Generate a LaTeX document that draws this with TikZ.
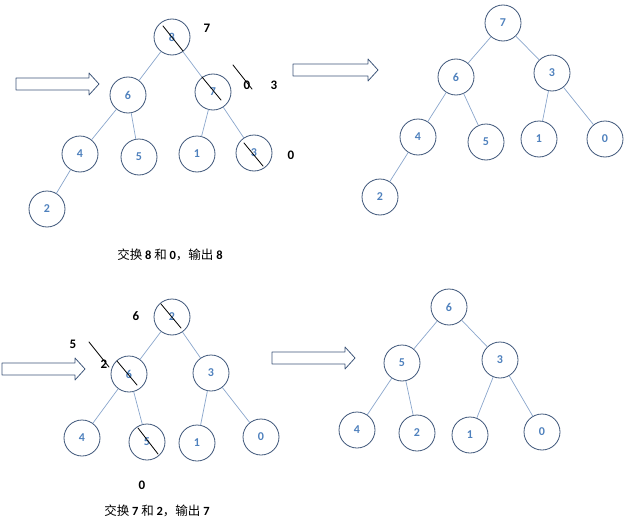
\documentclass[tikz,border=0pt]{standalone}
\usepackage{fontspec}
\setmainfont{Carlito}
\newfontfamily\cjk{Noto Sans CJK SC}
\definecolor{ringcol}{HTML}{3E5679}
\definecolor{numcol}{HTML}{4F81BD}
\definecolor{edgecol}{HTML}{8AA6CC}
\begin{document}
\begin{tikzpicture}[x=1pt,y=-1pt,line cap=round,line join=round,
  heapnode/.style={circle,draw=ringcol,line width=0.8pt,minimum size=36pt,inner sep=0pt,
    text=numcol,font=\fontsize{12}{12}\selectfont\bfseries},
  heapedge/.style={draw=edgecol,line width=0.7pt},
  strike/.style={black,line width=0.8pt},
  note/.style={font=\fontsize{13}{13}\selectfont\bfseries,text=black},
  caption/.style={font=\fontsize{12.5}{12.5}\selectfont,text=black}]
  \useasboundingbox (0,0) rectangle (630,522);
  \foreach \x/\y/\l in {16/84/83, 293/70/85, 2/369/83, 272/358/83}
    {\draw[ringcol,line width=0.8pt] (\x,\y-6)--(\x+\l-10,\y-6)--(\x+\l-10,\y-11)--(\x+\l,\y)
      --(\x+\l-10,\y+11)--(\x+\l-10,\y+6)--(\x,\y+6)--cycle;}
  \node[heapnode] (a0) at (172,37) {8};
  \node[heapnode] (a1) at (128,95) {6};
  \node[heapnode] (a2) at (213,92) {7};
  \node[heapnode] (a3) at (80,154) {4};
  \node[heapnode] (a4) at (139,157) {5};
  \node[heapnode] (a5) at (197,154) {1};
  \node[heapnode] (a6) at (254,153) {3};
  \node[heapnode] (a7) at (47,209) {2};
  \foreach \u/\v in {a0/a1,a0/a2,a1/a3,a1/a4,a2/a5,a2/a6,a3/a7} {\draw[heapedge] (\u)--(\v);}
  \draw[strike] (a0.center) ++(-9,-11) -- ++(20,25);
  \draw[strike] (a2.center) ++(-11,-15) -- ++(19,23);
  \draw[strike] (a6.center) ++(-10,-10) -- ++(19,23);
  \node[note] (la) at (207,28) {7};
  \node[note] (lb) at (247,85) {0};
  \node[note] (lc) at (274,85) {3};
  \node[note] (ld) at (291,155) {0};
  \coordinate (sa) at (233,65);
  \coordinate (sb) at (252,89);
  \draw[strike] (sa)--(sb);
  \node[caption] (capa) at (170,255) {{\cjk 交换} \textbf{8} {\cjk 和} \textbf{0}{\cjk ，输出} \textbf{8}};
  \node[heapnode] (b0) at (503,23) {7};
  \node[heapnode] (b1) at (456,77) {6};
  \node[heapnode] (b2) at (552,73) {3};
  \node[heapnode] (b3) at (418,137) {4};
  \node[heapnode] (b4) at (486,142) {5};
  \node[heapnode] (b5) at (539,139) {1};
  \node[heapnode] (b6) at (605,139) {0};
  \node[heapnode] (b7) at (380,197) {2};
  \foreach \u/\v in {b0/b1,b0/b2,b1/b3,b1/b4,b2/b5,b2/b6,b3/b7} {\draw[heapedge] (\u)--(\v);}
  \node[heapnode] (c0) at (172,317) {2};
  \node[heapnode] (c1) at (129,374) {6};
  \node[heapnode] (c2) at (211,373) {3};
  \node[heapnode] (c3) at (82,438) {4};
  \node[heapnode] (c4) at (147,442) {5};
  \node[heapnode] (c5) at (197,443) {1};
  \node[heapnode] (c6) at (261,437) {0};
  \foreach \u/\v in {c0/c1,c0/c2,c1/c3,c1/c4,c2/c5,c2/c6} {\draw[heapedge] (\u)--(\v);}
  \draw[strike] (c0.center) ++(-11,-13) -- ++(20,24);
  \draw[strike] (c1.center) ++(-12,-13) -- ++(20,24);
  \draw[strike] (c4.center) ++(-9,-14) -- ++(20,26);
  \node[note] (le) at (136,316) {6};
  \node[note] (lf) at (73,344) {5};
  \node[note] (lg) at (104,364) {2};
  \node[note] (lh) at (142,485) {0};
  \coordinate (sc) at (89,342);
  \coordinate (sd) at (109,367);
  \draw[strike] (sc)--(sd);
  \node[caption] (capb) at (157,511) {{\cjk 交换} \textbf{7} {\cjk 和} \textbf{2}{\cjk ，输出} \textbf{7}};
  \node[heapnode] (d0) at (449,307) {6};
  \node[heapnode] (d1) at (402,363) {5};
  \node[heapnode] (d2) at (500,360) {3};
  \node[heapnode] (d3) at (357,430) {4};
  \node[heapnode] (d4) at (417,433) {2};
  \node[heapnode] (d5) at (470,435) {1};
  \node[heapnode] (d6) at (542,432) {0};
  \foreach \u/\v in {d0/d1,d0/d2,d1/d3,d1/d4,d2/d5,d2/d6} {\draw[heapedge] (\u)--(\v);}
\end{tikzpicture}
\end{document}
